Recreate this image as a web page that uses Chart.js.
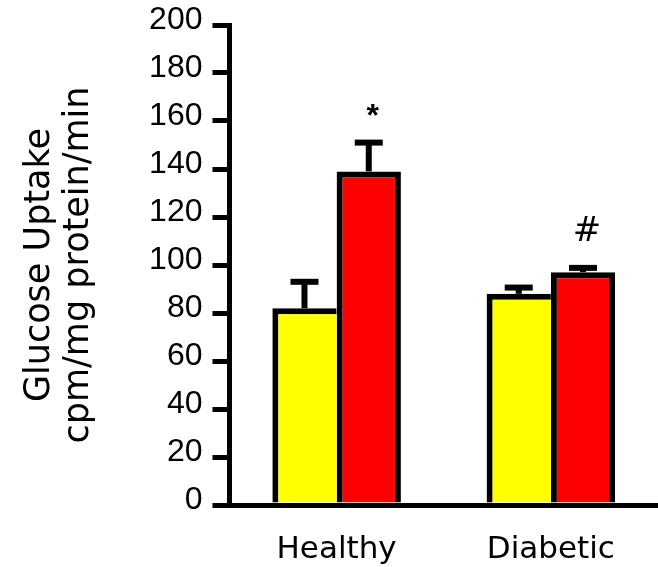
<!DOCTYPE html>
<html><head><meta charset="utf-8">
<script src="https://cdn.jsdelivr.net/npm/chart.js@4/dist/chart.umd.min.js"></script>
<style>html,body{margin:0;padding:0;background:#fff;overflow:hidden}</style>
</head><body>
<canvas id="c" width="658" height="567"></canvas>
<script>
const categories = ["Healthy", "Diabetic"];
const controlValues = [82, 88];
const treatedValues = [139, 97];
const controlErrTop = [93, 90.6];
const treatedErrTop = [151, 98.8];
const controlMarks = ["", ""];
const treatedMarks = ["*", "#"];
const yTickValues = [0, 20, 40, 60, 80, 100, 120, 140, 160, 180, 200];
const yTitle = ["Glucose Uptake", "cpm/mg protein/min"];

const errTops = [controlErrTop, treatedErrTop];
const marks = [controlMarks, treatedMarks];
const markFonts = {"*": 'bold 32px "Liberation Sans"', "#": '34px "DejaVu Sans"'};

const errPlugin = {
  id: 'errbars',
  afterDatasetsDraw(chart) {
    const ctx = chart.ctx;
    const ys = chart.scales.y;
    chart.data.datasets.forEach((ds, di) => {
      const meta = chart.getDatasetMeta(di);
      meta.data.forEach((bar, i) => {
        const top = ys.getPixelForValue(errTops[di][i]);
        ctx.save();
        ctx.strokeStyle = '#000';
        ctx.lineWidth = 6;
        ctx.lineCap = 'butt';
        ctx.beginPath();
        ctx.moveTo(bar.x, bar.y);
        ctx.lineTo(bar.x, top);
        ctx.stroke();
        ctx.beginPath();
        ctx.moveTo(bar.x - 14, top);
        ctx.lineTo(bar.x + 14, top);
        ctx.stroke();
        const m = marks[di][i];
        if (m) {
          ctx.fillStyle = '#000';
          ctx.font = markFonts[m] || '32px "DejaVu Sans"';
          ctx.textAlign = 'center';
          ctx.textBaseline = 'alphabetic';
          const mt = ctx.measureText(m);
          const bottom = top - 27;
          ctx.fillText(m, bar.x + 4, bottom - mt.actualBoundingBoxDescent);
        }
        ctx.restore();
      });
    });
  }
};

new Chart(document.getElementById('c'), {
  type: 'bar',
  data: {
    labels: categories,
    datasets: [
      {
        data: controlValues,
        backgroundColor: '#ffff00',
        borderColor: '#000',
        borderWidth: {top: 6, left: 6, right: 0, bottom: 0},
        borderSkipped: 'start',
        categoryPercentage: 0.6,
        barPercentage: 1.0
      },
      {
        data: treatedValues,
        backgroundColor: '#ff0000',
        borderColor: '#000',
        borderWidth: {top: 6, left: 6, right: 6, bottom: 0},
        borderSkipped: 'start',
        categoryPercentage: 0.6,
        barPercentage: 1.0
      }
    ]
  },
  options: {
    responsive: false,
    devicePixelRatio: 1,
    animation: false,
    layout: {padding: {left: 0, top: 25, right: 0, bottom: 0}},
    plugins: {legend: {display: false}, tooltip: {enabled: false}},
    scales: {
      x: {
        grid: {display: false, drawTicks: false},
        border: {display: true, width: 5, color: '#000', z: 1},
        ticks: {
          color: '#000',
          font: {family: '"DejaVu Sans"', size: 31},
          padding: 26
        },
        afterFit(scale) { scale.height = 62; }
      },
      y: {
        min: yTickValues[0],
        max: yTickValues[yTickValues.length - 1],
        grid: {display: true, drawOnChartArea: false, drawTicks: true, tickLength: 17, lineWidth: 5, color: '#000'},
        border: {display: true, width: 5, color: '#000', z: 1},
        ticks: {
          stepSize: yTickValues[1] - yTickValues[0],
          color: '#000',
          font: {family: '"Liberation Sans"', size: 32, lineHeight: 0.6},
          padding: 10,
          labelOffset: -5
        },
        title: {
          display: true,
          text: yTitle,
          color: '#000',
          font: {family: '"DejaVu Sans"', size: 35, lineHeight: 1.1},
          padding: {top: 21, bottom: 0}
        },
        afterFit(scale) { scale.width = 229.5; }
      }
    }
  },
  plugins: [errPlugin]
});
</script>
</body></html>
